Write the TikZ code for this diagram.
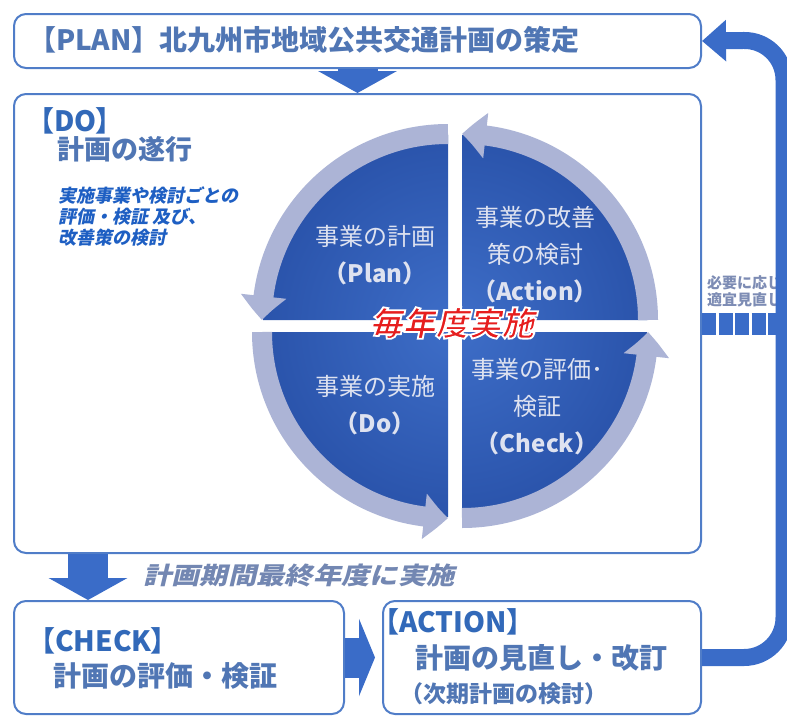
\documentclass[tikz,border=0pt]{standalone}
\usepackage{fontspec}
\usepackage{graphicx}
\usetikzlibrary{arrows.meta,bending}

\setmainfont{Noto Sans CJK JP}
\newfontfamily\jpp{Noto Sans CJK JP}[RawFeature=+palt]
\newfontfamily\jpit{Noto Sans CJK JP}[FakeSlant=0.2]

\definecolor{boxblue}{RGB}{80,125,200}
\definecolor{arrowblue}{RGB}{58,108,200}
\definecolor{quaddark}{RGB}{38,78,165}
\definecolor{quadlight}{RGB}{62,110,200}
\definecolor{ringgray}{RGB}{172,180,214}
\definecolor{qwhite}{RGB}{222,226,240}
\definecolor{hdcol}{RGB}{50,105,185}
\definecolor{txcol}{RGB}{80,118,180}
\definecolor{itcol}{RGB}{30,95,195}
\definecolor{notecol}{RGB}{115,135,178}
\definecolor{sidecol}{RGB}{125,140,180}
\definecolor{redtext}{RGB}{230,30,30}

\begin{document}
\begin{tikzpicture}[x=1pt,y=1pt,
  box/.style={draw=boxblue, line width=2pt, rounded corners=12pt, fill=white, anchor=north west, inner sep=0pt},
  txt/.style={anchor=west, inner sep=0pt},
  fatarrow/.style={draw=arrowblue, line width=40pt, -{Triangle[width=78pt,length=22pt]}},
  ring/.style={draw=ringgray, line width=20pt, -{Triangle[width=44pt,length=24pt,bend]}},
  qtext/.style={text=qwhite, align=center, inner sep=0pt, font=\fontsize{24}{37}\selectfont},
  loopline/.style={draw=arrowblue, line width=17pt, rounded corners=40pt, -{Triangle[width=40pt,length=24pt]}},
  dashbar/.style={draw=arrowblue, line width=22pt, dash pattern=on 14pt off 2.5pt}
]
\useasboundingbox (0,0) rectangle (787,-715);

% PDCA boxes
\node[box, minimum width=687, minimum height=54] (plan) at (13,-13) {};
\node[box, minimum width=687, minimum height=459] (do) at (13,-93) {};
\node[box, minimum width=330, minimum height=113] (chk) at (13,-600) {};
\node[box, minimum width=318, minimum height=113] (act) at (382,-600) {};

% Block arrows between the boxes
\draw[fatarrow] (plan.south) -- (do.north);
\draw[fatarrow] ([xshift=75pt]do.south west) -- ([xshift=75pt]chk.north west);
\draw[fatarrow, -{Triangle[width=77pt,length=16pt]}] (chk.east) -- ([xshift=-7pt]act.west);

% Yearly cycle (four quarters with curved arrows)
\begin{scope}
  \clip \foreach \cx/\cy/\a in {448/-320/90, 462/-320/0, 448/-332/180, 462/-332/270} {
    (\cx,\cy) -- ++(\a:185) arc[start angle=\a, end angle=\a+90, radius=185] -- cycle};
  \shade[inner color=quadlight, outer color=quaddark] (455,-326) circle[radius=230];
\end{scope}
\foreach \cx/\cy/\a in {448/-320/90, 462/-320/0, 448/-332/180, 462/-332/270} {
  \draw[ring] (\cx,\cy) ++(\a:186) arc[start angle=\a, end angle=\a+90, radius=186];
}
\node[qtext] (qplan) at (375,-255) {事業の計画\\\textbf{（Plan）}};
\node[qtext] (qact) at (535,-255) {事業の改善\\策の検討\\\textbf{（Action）}};
\node[qtext] (qdo) at (375,-405) {事業の実施\\\textbf{（Do）}};
\node[qtext] (qchk) at (537,-407) {事業の評価･\\検証\\\textbf{（Check）}};
\node[text=redtext, inner sep=0pt, font=\jpit\bfseries\fontsize{33}{33}\selectfont] (yearly) at (452,-323)
  {\special{pdf:code 2 Tr 1 1 1 RG 1.8 w}毎年度実施\special{pdf:code 0 Tr}};

% Box texts
\node[txt, text=txcol, font=\bfseries\fontsize{28}{28}\selectfont] (plantitle) at (28,-40) {【PLAN】北九州市地域公共交通計画の策定};
\node[txt, text=hdcol, font=\jpp\bfseries\fontsize{28}{28}\selectfont] (dolabel) at (40,-121) {【DO】};
\node[txt, text=txcol, font=\bfseries\fontsize{27}{27}\selectfont] (dotitle) at (57,-149) {計画の遂行};
\node[txt, text=itcol, align=left, font=\jpit\bfseries\fontsize{18}{21}\selectfont] (doitem) at (58,-217) {実施事業や検討ごとの\\評価・検証 及び、\\改善策の検討};
\node[txt, text=notecol, font=\jpit\bfseries\fontsize{24}{24}\selectfont] (lastyear) at (143,-575) {\scalebox{1.18}[1]{計画期間最終年度に実施}};
\node[txt, text=hdcol, font=\jpp\bfseries\fontsize{28}{28}\selectfont] (chklabel) at (41,-641) {【CHECK】};
\node[txt, text=txcol, font=\bfseries\fontsize{28}{28}\selectfont] (chktitle) at (53,-676) {計画の評価・検証};
\node[txt, text=hdcol, font=\jpp\bfseries\fontsize{28}{28}\selectfont] (actlabel) at (385,-622) {【ACTION】};
\node[txt, text=txcol, font=\bfseries\fontsize{28}{28}\selectfont] (acttitle) at (415,-658) {計画の見直し・改訂};
\node[txt, text=txcol, font=\bfseries\fontsize{23}{23}\selectfont] (actnote) at (400,-694) {（次期計画の検討）};
\node[txt, text=sidecol, align=left, font=\bfseries\fontsize{15}{17}\selectfont] (review) at (707,-291) {必要に応じ\\適宜見直し};

% Feedback loop to the plan
\coordinate (rt) at (784,-40);
\draw[dashbar] (do.east) -- (do.east -| rt);
\draw[loopline] (act.east) -| (rt) -- (plan.east);

\end{tikzpicture}
\end{document}
